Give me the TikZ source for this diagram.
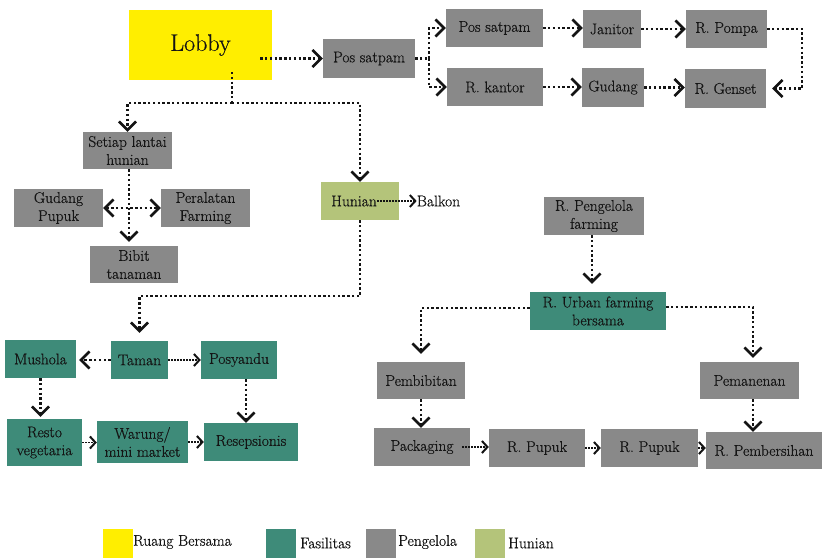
\documentclass[tikz,border=0pt]{standalone}
\usepackage{fontspec}
\setmainfont{Latin Modern Roman}[FakeBold=0.5]
\usetikzlibrary{arrows.meta,calc}
\definecolor{cyel}{RGB}{255,238,0}
\definecolor{cgrey}{RGB}{137,137,137}
\definecolor{cteal}{RGB}{62,139,121}
\definecolor{colive}{RGB}{180,196,122}
\definecolor{ctext}{RGB}{20,20,20}
\tikzset{
  box/.style={inner sep=0pt, align=center, text=ctext, font=\fontsize{15.5}{18}\selectfont},
  gbox/.style={box, fill=cgrey},
  tbox/.style={box, fill=cteal},
  obox/.style={box, fill=colive},
  ybox/.style={box, fill=cyel},
  arr/.style={line width=2.4pt, dash pattern=on 2.4pt off 2.4pt, color=ctext,
    -{Straight Barb[length=8.5pt,width=17pt,line width=2.6pt]}},
  darr/.style={line width=2.4pt, dash pattern=on 2.4pt off 2.4pt, color=ctext,
    {Straight Barb[length=8.5pt,width=17pt,line width=2.6pt]}-{Straight Barb[length=8.5pt,width=17pt,line width=2.6pt]}},
  plain/.style={line width=2.4pt, dash pattern=on 2.4pt off 2.4pt, color=ctext},
  tarr/.style={line width=1.4pt, dash pattern=on 1.4pt off 1.6pt, color=ctext,
    -{Straight Barb[length=5.5pt,width=12pt,line width=2pt]}},
  legsq/.style={fill=#1, minimum width=30pt, minimum height=29pt, inner sep=0pt},
  legtx/.style={inner sep=0pt, anchor=west, text=ctext, font=\fontsize{15.5}{18}\selectfont},
}
\begin{document}
\begin{tikzpicture}[x=1pt,y=-1pt]
\useasboundingbox (0,0) rectangle (824,557);
% top area
\node[ybox, minimum width=143pt, minimum height=70pt, font=\fontsize{24}{28}\selectfont] (lobby) at (200.5,45) {\raisebox{-5pt}{Lobby}};
\node[gbox, minimum width=92pt, minimum height=39pt] (ps) at (369,58.5) {Pos satpam};
\node[gbox, minimum width=97pt, minimum height=38pt] (ps2) at (494.5,28) {Pos satpam};
\node[gbox, minimum width=58pt, minimum height=38pt] (jan) at (612,29) {Janitor};
\node[gbox, minimum width=81pt, minimum height=38pt] (pompa) at (726.5,29) {R. Pompa};
\node[gbox, minimum width=96pt, minimum height=38pt] (kantor) at (495,87) {R. kantor};
\node[gbox, minimum width=62pt, minimum height=39pt] (gudang) at (613,87.5) {Gudang};
\node[gbox, minimum width=81pt, minimum height=39pt] (genset) at (725.5,88.5) {R. Genset};
% left cluster
\node[gbox, minimum width=89pt, minimum height=37pt] (setiap) at (127.5,150.5) {Setiap lantai\\hunian};
\node[gbox, minimum width=89pt, minimum height=38pt] (gpupuk) at (58.5,208) {Gudang\\Pupuk};
\node[gbox, minimum width=89pt, minimum height=38pt] (peral) at (205.5,208) {Peralatan\\Farming};
\node[gbox, minimum width=88pt, minimum height=37pt] (bibit) at (134,264.5) {Bibit\\tanaman};
\node[obox, minimum width=78pt, minimum height=38pt] (hunian) at (360,201) {\hspace*{-12pt}Hunian};
\node[box] (balkon) at (438.5,201) {Balkon};
% facilities
\node[tbox, minimum width=71pt, minimum height=38pt] (mushola) at (40.5,359) {Mushola};
\node[tbox, minimum width=57pt, minimum height=38pt] (taman) at (139.5,360) {Taman};
\node[tbox, minimum width=76pt, minimum height=38pt] (posy) at (239,360) {Posyandu};
\node[tbox, minimum width=75pt, minimum height=47pt] (resto) at (44.5,442.5) {Resto\\vegetaria};
\node[tbox, minimum width=91pt, minimum height=42pt] (warung) at (142.5,442) {Warung/\\mini market};
\node[tbox, minimum width=94pt, minimum height=38pt] (resep) at (251,442) {Resepsionis};
% farming
\node[gbox, minimum width=100pt, minimum height=38pt] (rpf) at (594,216) {R. Pengelola\\farming};
\node[tbox, minimum width=136pt, minimum height=38pt] (ruf) at (598,311) {R. Urban farming\\bersama};
\node[gbox, minimum width=88pt, minimum height=37pt] (pemb) at (421,380.5) {Pembibitan};
\node[gbox, minimum width=99pt, minimum height=37pt] (paneng) at (749.5,380.5) {Pemanenan};
\node[gbox, minimum width=96pt, minimum height=38pt] (pack) at (422,447) {Packaging};
\node[gbox, minimum width=96pt, minimum height=38pt] (pup1) at (537,448) {R. Pupuk};
\node[gbox, minimum width=97pt, minimum height=38pt] (pup2) at (649.5,448) {R. Pupuk};
\node[gbox, minimum width=116pt, minimum height=37pt] (bersih) at (764,450.5) {R. Pembersihan};
% legend
\node[legsq=cyel] (l1) at (118,543) {};
\node[legtx] (l1t) at (133,542) {Ruang Bersama};
\node[legsq=cteal] (l2) at (280.5,543) {};
\node[legtx] (l2t) at (300,543) {Fasilitas};
\node[legsq=cgrey] (l3) at (380.5,543) {};
\node[legtx] (l3t) at (398,542) {Pengelola};
\node[legsq=colive] (l4) at (489.5,543) {};
\node[legtx] (l4t) at (508,543) {Hunian};
% connectors
\coordinate (lobR) at ([xshift=-12pt]lobby.east);
\draw[arr] (lobR |- ps.west) -- (ps.west);
\coordinate (sp) at (429,58.5);
\draw[plain] (ps.east) -- (sp);
\draw[arr] (sp) |- (ps2.west);
\draw[arr] (sp) |- (kantor.west);
\draw[arr] (ps2.east) -- (ps2.east -| jan.west);
\draw[arr] (jan.east) -- (jan.east -| pompa.west);
\draw[arr] (kantor.east) -- (kantor.east -| gudang.west);
\draw[arr] (gudang.east) -- (gudang.east -| genset.west);
\draw[arr, shorten >=6pt] (pompa.east) -- ++(35,0) |- (genset.east);
\coordinate (ld) at (232,72);
\coordinate (lj) at (232,103);
\draw[plain] (ld) -- (lj);
\draw[arr] (lj) -| (setiap.north);
\draw[arr] (lj) -| (hunian.north);
\draw[arr, shorten >=4pt] ([xshift=1.5pt]setiap.south) -- ([xshift=1.5pt]setiap.south |- bibit.north);
\draw[darr] (gpupuk.east) -- (peral.west);
\draw[tarr] ([xshift=-22pt]hunian.east) -- (balkon.west);
\draw[arr, shorten >=8pt] (hunian.south) -- ++(0,76) -| (taman.north);
\draw[arr, shorten >=3pt] (taman.west) -- (taman.west -| mushola.east);
\draw[tarr] (taman.east) -- (posy.west);
\draw[arr, shorten >=2pt] (mushola.south) -- (mushola.south |- resto.north);
\draw[arr] ([xshift=7pt]posy.south) -- ([xshift=7pt]posy.south |- resep.north);
\draw[tarr] (resto.east) -- (resto.east -| warung.west);
\draw[tarr] (warung.east) -- (warung.east -| resep.west);
\draw[arr, shorten >=8pt] ([xshift=-2pt]rpf.south) -- ([xshift=-2pt]rpf.south |- ruf.north);
\draw[arr, shorten >=8pt] ([yshift=3pt]ruf.west) -| (pemb.north);
\draw[arr, shorten >=4pt] ([yshift=4pt]ruf.east) -| ([xshift=3.5pt]paneng.north);
\draw[arr] (pemb.south) -- (pemb.south |- pack.north);
\draw[arr] ([xshift=3.5pt]paneng.south) -- ([xshift=3.5pt]paneng.south |- bersih.north);
\draw[tarr] ([xshift=-8pt]pack.east) -- (pack.east -| pup1.west);
\draw[tarr] (pup1.east) -- (pup1.east -| pup2.west);
\draw[tarr] (pup2.east) -- (pup2.east -| bersih.west);
\end{tikzpicture}
\end{document}
